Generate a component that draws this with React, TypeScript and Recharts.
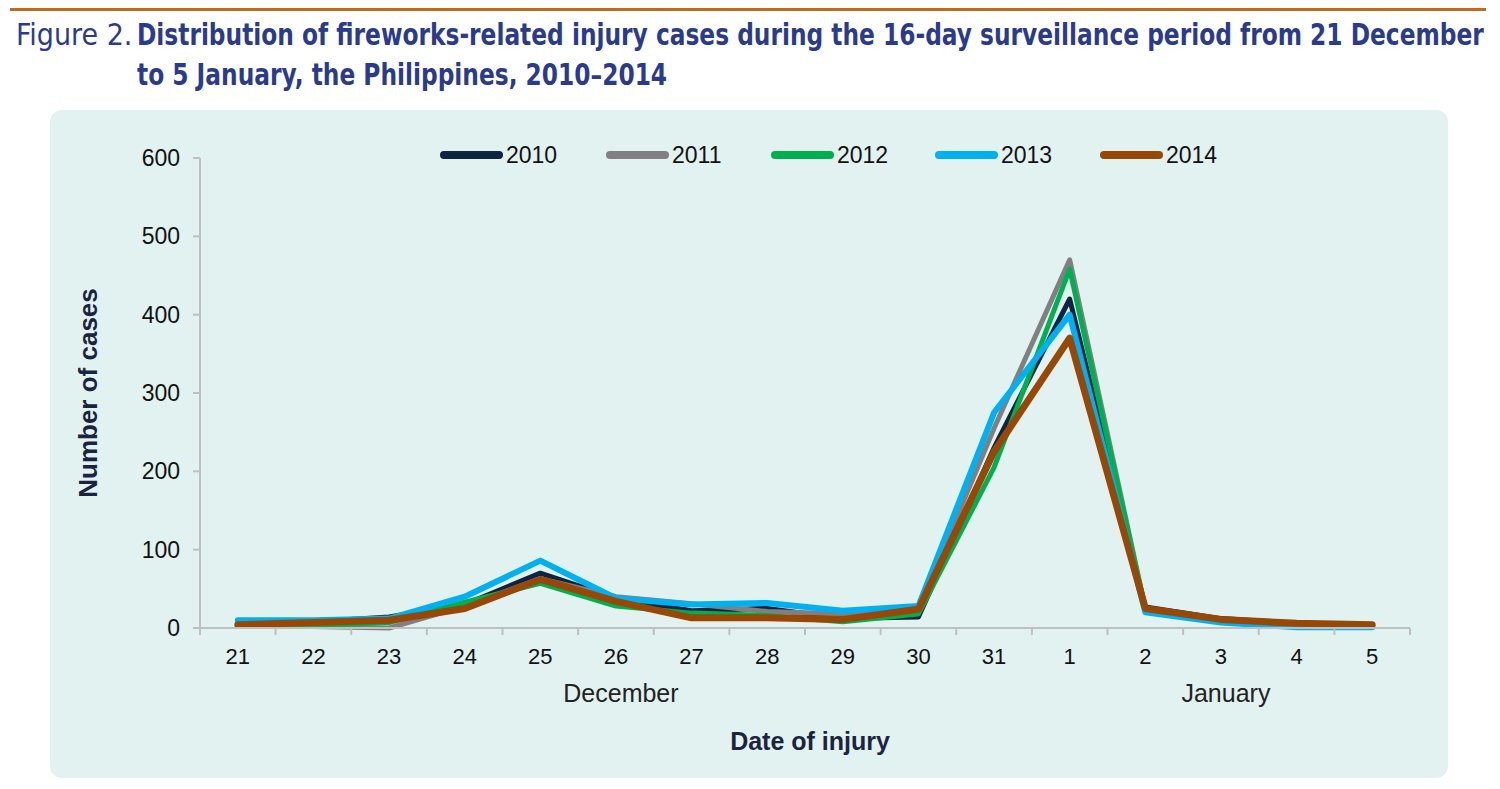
import React from "react";
import { LineChart, Line, XAxis, YAxis } from "recharts";

const days = ["21", "22", "23", "24", "25", "26", "27", "28", "29", "30", "31", "1", "2", "3", "4", "5"];
const y2010 = [5, 8, 14, 30, 70, 38, 22, 25, 12, 14, 230, 420, 27, 12, 6, 4];
const y2011 = [5, 2, 0, 28, 63, 40, 31, 21, 18, 25, 255, 470, 25, 11, 5, 3];
const y2012 = [5, 3, 7, 33, 57, 28, 19, 16, 8, 18, 205, 458, 24, 10, 3, 2];
const y2013 = [10, 10, 12, 40, 86, 38, 30, 32, 22, 28, 275, 400, 20, 7, 1, 1];
const y2014 = [4, 7, 10, 25, 62, 34, 13, 13, 11, 24, 225, 370, 25, 11, 6, 4];
const yTicks = [0, 100, 200, 300, 400, 500, 600];
const monthLabels: Record<number, string> = { 5: "December", 13: "January" };

const series = [
  { key: "y2010", name: "2010", color: "#0e2441", width: 5 },
  { key: "y2011", name: "2011", color: "#808080", width: 5 },
  { key: "y2012", name: "2012", color: "#00b050", width: 5 },
  { key: "y2013", name: "2013", color: "#00b0f0", width: 6 },
  { key: "y2014", name: "2014", color: "#974706", width: 7 },
];

const data = days.map((d, i) => ({
  i,
  day: d,
  y2010: y2010[i],
  y2011: y2011[i],
  y2012: y2012[i],
  y2013: y2013[i],
  y2014: y2014[i],
}));

const PLOT_LEFT = 200;
const PLOT_RIGHT = 1410;
const STEP = (PLOT_RIGHT - PLOT_LEFT) / days.length;
const AXIS_Y = 628;
const FONT = "Liberation Sans, Arial, sans-serif";

const XTick = (props: any) => {
  const { x, payload, index } = props;
  const idx = payload.value as number;
  return (
    <g>
      <line x1={x - STEP / 2} x2={x - STEP / 2} y1={AXIS_Y} y2={AXIS_Y + 7} stroke="#bfbfbf" strokeWidth={2} />
      {index === days.length - 1 && (
        <line x1={x + STEP / 2} x2={x + STEP / 2} y1={AXIS_Y} y2={AXIS_Y + 7} stroke="#bfbfbf" strokeWidth={2} />
      )}
      <text x={x} y={AXIS_Y + 36} textAnchor="middle" fontSize={22} fill="#111" fontFamily={FONT}>
        {days[idx]}
      </text>
      {monthLabels[idx] && (
        <text x={x + 5} y={AXIS_Y + 74} textAnchor="middle" fontSize={25} fill="#222" fontFamily={FONT}>
          {monthLabels[idx]}
        </text>
      )}
    </g>
  );
};

const legendX = [440, 606, 771, 935, 1100];

export default function App() {
  const titleFont = "'Liberation Sans Narrow', 'DejaVu Sans Condensed', sans-serif";
  return (
    <div style={{ position: "absolute", left: 0, top: 0, width: 1500, height: 789, background: "#fff", overflow: "hidden" }}>
      <div style={{ position: "absolute", left: 10, top: 8, width: 1476, height: 3, background: "#c0691f" }} />
      <div style={{ position: "absolute", left: 16, top: 15, color: "#2b3b8c", fontFamily: titleFont, fontSize: 30, lineHeight: "40px", whiteSpace: "nowrap" }}>
        Figure 2.
      </div>
      <div
        style={{
          position: "absolute",
          left: 137,
          top: 15,
          color: "#2b3b8c",
          fontFamily: titleFont,
          fontSize: 30,
          lineHeight: "40px",
          fontWeight: "bold",
          whiteSpace: "nowrap",
          transform: "scaleX(0.864)",
          transformOrigin: "0 0",
        }}
      >
        <div>Distribution of fireworks-related injury cases during the 16-day surveillance period from 21 December</div>
        <div>to 5 January, the Philippines, 2010–2014</div>
      </div>
      <div style={{ position: "absolute", left: 50, top: 110, width: 1398, height: 668, background: "#e2f2f0", borderRadius: 12 }} />
      <div style={{ position: "absolute", left: 0, top: 0 }}>
        <LineChart width={1500} height={789} data={data} margin={{ top: 158, right: 90, bottom: 131, left: 140 }}>
          <XAxis
            dataKey="i"
            type="number"
            domain={[-0.5, 15.5]}
            ticks={days.map((_, i) => i)}
            interval={0}
            tickLine={false}
            axisLine={{ stroke: "#bfbfbf", strokeWidth: 2 }}
            tick={<XTick />}
            height={30}
          />
          <YAxis
            domain={[0, 600]}
            ticks={yTicks}
            width={60}
            tickSize={7}
            tickMargin={13}
            axisLine={{ stroke: "#bfbfbf", strokeWidth: 2 }}
            tickLine={{ stroke: "#bfbfbf", strokeWidth: 2 }}
            tick={{ fontSize: 23, fill: "#111", fontFamily: FONT }}
          />
          {series.map((s) => (
            <Line
              key={s.key}
              type="linear"
              dataKey={s.key}
              name={s.name}
              stroke={s.color}
              strokeWidth={s.width}
              dot={false}
              activeDot={false}
              isAnimationActive={false}
              strokeLinejoin="round"
              strokeLinecap="round"
            />
          ))}
        </LineChart>
      </div>
      {series.map((s, k) => (
        <div key={s.key} style={{ position: "absolute", left: legendX[k], top: 142, height: 26, display: "flex", alignItems: "center" }}>
          <div style={{ width: 63, height: 8, background: s.color, borderRadius: 4 }} />
          <span style={{ marginLeft: 3, fontFamily: FONT, fontSize: 23, color: "#111" }}>{s.name}</span>
        </div>
      ))}
      <div
        style={{
          position: "absolute",
          left: 88,
          top: 393,
          transform: "translate(-50%, -50%) rotate(-90deg)",
          whiteSpace: "nowrap",
          fontFamily: FONT,
          fontWeight: "bold",
          fontSize: 26,
          color: "#1a2440",
        }}
      >
        Number of cases
      </div>
      <div
        style={{
          position: "absolute",
          left: 810,
          top: 741,
          transform: "translate(-50%, -50%)",
          whiteSpace: "nowrap",
          fontFamily: FONT,
          fontWeight: "bold",
          fontSize: 25,
          color: "#1a2440",
        }}
      >
        Date of injury
      </div>
    </div>
  );
}
